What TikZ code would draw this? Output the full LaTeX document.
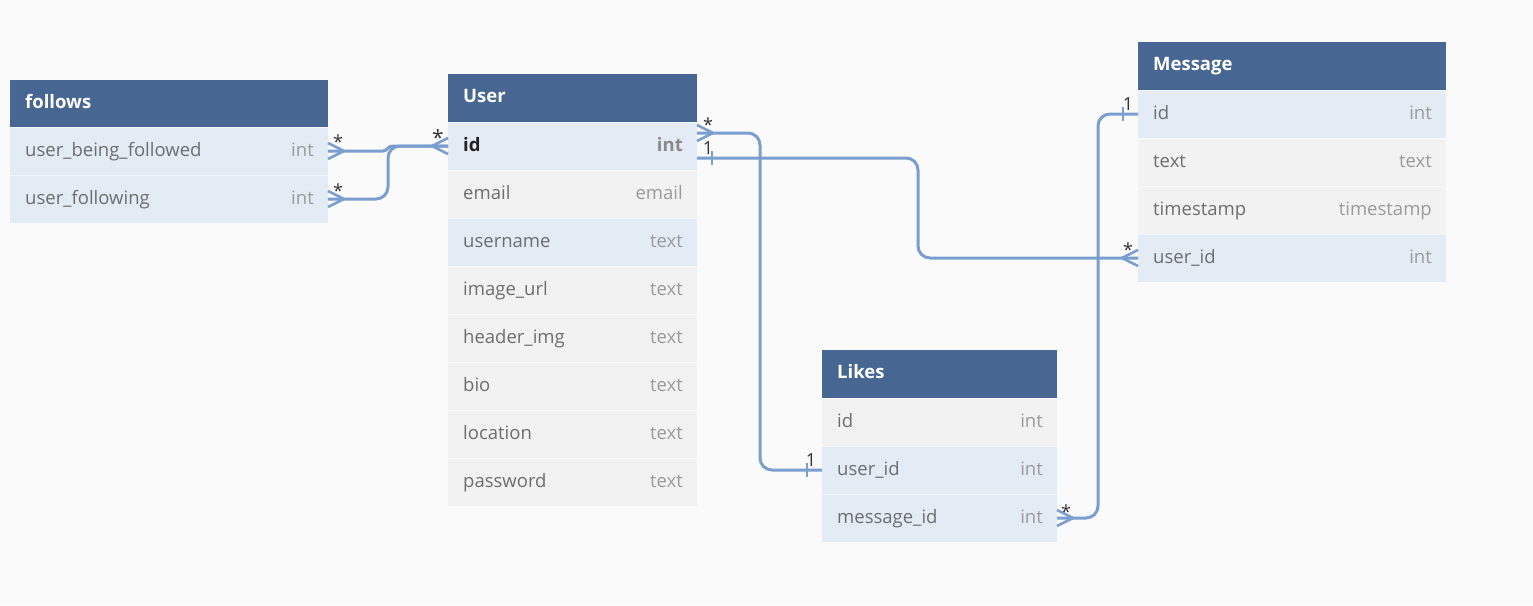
\documentclass[tikz,border=0pt]{standalone}
\usepackage{fontspec}
\setmainfont{Open Sans}
\usetikzlibrary{calc}
\definecolor{bg}{HTML}{FAFAFA}
\definecolor{hdr}{HTML}{476792}
\definecolor{rowb}{HTML}{E3EBF4}
\definecolor{rowg}{HTML}{F2F2F2}
\definecolor{conncol}{HTML}{7A9ECF}
\definecolor{ftxt}{HTML}{6E6E6E}
\definecolor{ttxt}{HTML}{9B9B9B}
\definecolor{idtxt}{HTML}{222222}
\definecolor{idtype}{HTML}{8A8A8A}
\definecolor{lbl}{HTML}{333333}
\newcommand\erfont{\fontsize{18.5}{22}\selectfont}
\tikzset{
  hdrbox/.style={fill=hdr, minimum height=48pt, anchor=north west, inner sep=0pt, outer sep=0pt},
  rowblue/.style={fill=rowb, minimum height=48pt, anchor=north west, inner sep=0pt, outer sep=0pt},
  rowgrey/.style={fill=rowg, minimum height=48pt, anchor=north west, inner sep=0pt, outer sep=0pt},
  rowsep/.style={draw=white, draw opacity=0.6, line width=0.8pt},
  hdrtxt/.style={text=white, font=\erfont\bfseries, inner sep=0pt, anchor=base west},
  fieldtxt/.style={text=ftxt, font=\erfont, inner sep=0pt, anchor=base west},
  typetxt/.style={text=ttxt, font=\erfont, inner sep=0pt, anchor=base east},
  conn/.style={draw=conncol, line width=3pt},
  foot/.style={draw=conncol, line width=2.6pt, line join=round},
  lbltxt/.style={text=lbl, font=\fontsize{18}{22}\selectfont, inner sep=0pt, anchor=base},
}
\newcommand\tabhead[5]{%
  \node[hdrbox, minimum width=#4pt] (#1) at (#2,#3) {};
  \node[hdrtxt] (#1-t) at ($(#1.north west)+(15,28)$) {#5};
}
\newcommand\tabrow[7]{%
  \node[#5, minimum width=#4pt] (#1) at (#2,#3) {};
  \draw[rowsep] (#1.north west) -- (#1.north east);
  \node[fieldtxt] (#1-f) at ($(#1.north west)+(15,29.5)$) {#6};
  \node[typetxt] (#1-t) at ($(#1.north east)+(-14,29.5)$) {#7};
}
\newcommand\crowfoot[2]{%
  \draw[foot] ($(#1)+(0,-8)$) -- ($(#1)+(#2*16,0)$) -- ($(#1)+(0,8)$);
}
\newcommand\onetick[2]{%
  \draw[foot] ($(#1)+(#2,-7)$) -- ($(#1)+(#2,7)$);
}
\begin{document}
\begin{tikzpicture}[x=1pt,y=-1pt]
\fill[bg] (0,0) rectangle (1533,605);
\useasboundingbox (0,0) rectangle (1533,605);

% follows
\tabhead{fh}{10}{80}{318}{follows}
\tabrow{f1}{10}{127}{318}{rowblue}{user\_being\_followed}{int}
\tabrow{f2}{10}{175}{318}{rowblue}{user\_following}{int}

% User
\tabhead{uh}{448}{74}{249}{User}
\tabrow{u1}{448}{122}{249}{rowblue}{\color{idtxt}\bfseries id}{\color{idtype}\bfseries int}
\tabrow{u2}{448}{170}{249}{rowgrey}{email}{email}
\tabrow{u3}{448}{218}{249}{rowblue}{username}{text}
\tabrow{u4}{448}{266}{249}{rowgrey}{image\_url}{text}
\tabrow{u5}{448}{314}{249}{rowgrey}{header\_img}{text}
\tabrow{u6}{448}{362}{249}{rowgrey}{bio}{text}
\tabrow{u7}{448}{410}{249}{rowgrey}{location}{text}
\tabrow{u8}{448}{458}{249}{rowgrey}{password}{text}

% Message
\tabhead{mh}{1138}{42}{308}{Message}
\tabrow{m1}{1138}{90}{308}{rowblue}{id}{int}
\tabrow{m2}{1138}{138}{308}{rowgrey}{text}{text}
\tabrow{m3}{1138}{186}{308}{rowgrey}{timestamp}{timestamp}
\tabrow{m4}{1138}{234}{308}{rowblue}{user\_id}{int}

% Likes
\tabhead{lh}{822}{350}{235}{Likes}
\tabrow{l1}{822}{398}{235}{rowgrey}{id}{int}
\tabrow{l2}{822}{446}{235}{rowblue}{user\_id}{int}
\tabrow{l3}{822}{494}{235}{rowblue}{message\_id}{int}

% connectors
\coordinate (uA) at ($(u1.east)+(0,-13)$);
\coordinate (uB) at ($(u1.east)+(0,12)$);
\draw[conn] (f1.east) -- (383,151) .. controls (388,151) and (387,146) .. (393,146) -- (u1.west);
\draw[conn, rounded corners=12pt] (f2.east) -- (388,199) -- (388,146) -- (u1.west);
\draw[conn, rounded corners=12pt] (uA) -- (760,133) -- (760,470) -- (l2.west);
\draw[conn, rounded corners=12pt] (uB) -- (918,158) -- (918,258) -- (m4.west);
\draw[conn, rounded corners=12pt] (m1.west) -- (1098,114) -- (1098,518) -- (l3.east);

\crowfoot{f1.east}{1}
\crowfoot{f2.east}{1}
\crowfoot{u1.west}{-1}
\crowfoot{uA}{1}
\crowfoot{m4.west}{-1}
\crowfoot{l3.east}{1}
\onetick{uB}{15}
\onetick{l2.west}{-15}
\onetick{m1.west}{-15}

% labels
\node[lbltxt] (s1) at (338,148) {*};
\node[lbltxt] (s2) at (338,197) {*};
\node[lbltxt, font=\fontsize{21}{24}\selectfont] (s3) at (438,145) {*};
\node[lbltxt] (s4) at (708,131) {*};
\node[lbltxt] (o1) at (708,154) {1};
\node[lbltxt] (o2) at (811,466) {1};
\node[lbltxt] (s5) at (1066,518) {*};
\node[lbltxt] (o3) at (1128,110) {1};
\node[lbltxt] (s6) at (1128,256) {*};
\end{tikzpicture}
\end{document}
